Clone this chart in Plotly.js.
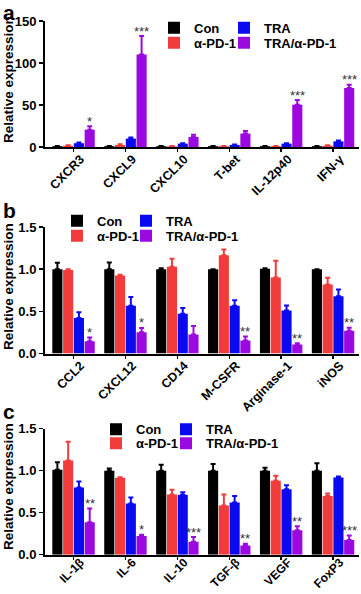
<!DOCTYPE html>
<html>
<head>
<meta charset="utf-8">
<script src="https://cdn.plot.ly/plotly-3.0.1.min.js"></script>
<style>html,body{margin:0;padding:0;background:#fff}#chart{width:361px;height:594px}</style>
</head>
<body>
<div id="chart"></div>
<script>
// ---------- data ----------
const groups = ['Con', 'α-PD-1', 'TRA', 'TRA/α-PD-1'];
const colors = ['#000000', '#f23c3c', '#0a0af0', '#9a0ae0'];

const catsA = ['CXCR3', 'CXCL9', 'CXCL10', 'T-bet', 'IL-12p40', 'IFN-γ'];
const conA   = [1, 1, 1, 1, 1, 1];
const pd1A   = [1.5, 2.5, 0.8, 1, 1, 1.5];
const traA   = [4.5, 10, 4, 2.5, 4, 6.7];
const comboA = [20.6, 110, 12, 16, 50.4, 70.2];
const conAErr   = [0.3, 0.3, 0.3, 0.3, 0.3, 0.3];
const pd1AErr   = [0.5, 0.8, 0.3, 0.3, 0.3, 0.5];
const traAErr   = [0.8, 1.2, 0.5, 0.5, 0.5, 1];
const comboAErr = [4, 22, 2.7, 3, 5.5, 4];
const sigA = ['*', '***', '', '', '***', '***'];

const catsB = ['CCL2', 'CXCL12', 'CD14', 'M-CSFR', 'Arginase-1', 'iNOS'];
const conB   = [1.0, 1.0, 1.0, 1.0, 1.005, 1.0];
const pd1B   = [0.99, 0.925, 1.03, 1.166, 0.90, 0.818];
const traB   = [0.42, 0.565, 0.47, 0.565, 0.51, 0.68];
const comboB = [0.146, 0.253, 0.225, 0.154, 0.107, 0.27];
const conBErr   = [0.075, 0.08, 0.012, 0, 0.006, 0];
const pd1BErr   = [0.01, 0.01, 0.095, 0.067, 0.2, 0.08];
const traBErr   = [0.07, 0.105, 0.07, 0.067, 0.06, 0.08];
const comboBErr = [0.045, 0.05, 0.1, 0.047, 0.015, 0.035];
const sigB = ['*', '*', '', '**', '**', '**'];

const catsC = ['IL-1β', 'IL-6', 'IL-10', 'TGF-β', 'VEGF', 'FoxP3'];
const conC   = [1.01, 1.0, 1.0, 1.0, 1.0, 1.0];
const pd1C   = [1.12, 0.917, 0.718, 0.587, 0.88, 0.70];
const traC   = [0.80, 0.61, 0.714, 0.62, 0.778, 0.92];
const comboC = [0.385, 0.222, 0.155, 0.11, 0.29, 0.175];
const conCErr   = [0.09, 0.025, 0.07, 0.08, 0.035, 0.09];
const pd1CErr   = [0.225, 0.005, 0.056, 0.13, 0.06, 0.03];
const traCErr   = [0.07, 0.07, 0.03, 0.08, 0.05, 0.01];
const comboCErr = [0.165, 0.016, 0.055, 0.02, 0.05, 0.055];
const sigC = ['**', '*', '***', '**', '**', '***'];

const yTitle = 'Relative expression';
const panelLetters = ['a', 'b', 'c'];

// ---------- build ----------
const FONT = 'Liberation Sans, Arial, sans-serif';
const H = 594, W = 361;
const py = p => 1 - p / H;

const panels = [
  {cats: catsA, vals: [conA, pd1A, traA, comboA], errs: [conAErr, pd1AErr, traAErr, comboAErr], sig: sigA,
   range: [0, 150], dtick: 50, fmt: 'd', dom: [py(147), py(21)], legY: [27.7, 42.7], legX: [154, 224], letterTop: 0, titleY: 80, standoff: -5, tfs: 12.5},
  {cats: catsB, vals: [conB, pd1B, traB, comboB], errs: [conBErr, pd1BErr, traBErr, comboBErr], sig: sigB,
   range: [0, 1.5], dtick: 0.5, fmt: '.1f', dom: [py(353.5), py(227)], legY: [220.7, 235.7], legX: [57, 126], letterTop: 198, titleY: 287, standoff: -5, tfs: 12.5},
  {cats: catsC, vals: [conC, pd1C, traC, comboC], errs: [conCErr, pd1CErr, traCErr, comboCErr], sig: sigC,
   range: [0, 1.5], dtick: 0.5, fmt: '.1f', dom: [py(554.7), py(428.7)], legY: [429.3, 443.3], legX: [96, 166], letterTop: 399, titleY: 487, standoff: -9, tfs: 12}
];
// legend grid: [column, row] for each group
const legCell = [[0, 0], [0, 1], [1, 0], [1, 1]];

const bargap = 0.17;
const data = [];
const layout = {
  width: W, height: H,
  margin: {l: 0, r: 0, t: 0, b: 0},
  paper_bgcolor: '#fff', plot_bgcolor: '#fff',
  barmode: 'group', bargap: bargap, bargroupgap: 0.06,
  font: {family: FONT, size: 13, color: '#000', weight: 'bold'},
  annotations: [],
  showlegend: true
};

let legN = 0;
panels.forEach((p, pi) => {
  const xa = pi === 0 ? 'x' : 'x' + (pi + 1);
  const ya = pi === 0 ? 'y' : 'y' + (pi + 1);
  groups.forEach((g, gi) => {
    legN += 1;
    const lg = legN === 1 ? 'legend' : 'legend' + legN;
    data.push({
      type: 'bar', x: p.cats, y: p.vals[gi], name: g,
      xaxis: xa, yaxis: ya, legend: lg,
      marker: {color: colors[gi], line: {width: 0}},
      error_y: {type: 'data', symmetric: false, array: p.errs[gi], arrayminus: p.errs[gi].map(() => 0),
                color: colors[gi], thickness: 2, width: 2.5},
      hoverinfo: 'skip'
    });
    layout[lg] = {
      orientation: 'h', xref: 'paper', yref: 'paper', xanchor: 'left', yanchor: 'middle',
      x: p.legX[legCell[gi][0]] / W, y: py(p.legY[legCell[gi][1]]),
      bgcolor: 'rgba(0,0,0,0)', borderwidth: 0,
      font: {family: FONT, size: 13, color: '#000', weight: 'bold'}, itemclick: false, itemdoubleclick: false
    };
  });
  const xkey = pi === 0 ? 'xaxis' : 'xaxis' + (pi + 1);
  const ykey = pi === 0 ? 'yaxis' : 'yaxis' + (pi + 1);
  layout[xkey] = {
    domain: [45 / W, 359 / W], anchor: ya, range: [-0.55, 5.5], type: 'category',
    showline: true, linewidth: 2, linecolor: '#000', ticks: 'outside', ticklen: 3, tickwidth: 1.5, tickcolor: '#000',
    tickangle: -45, ticklabelshift: 7, ticklabelstandoff: p.standoff,
    tickfont: {family: FONT, size: p.tfs, color: '#000', weight: 'bold'},
    showgrid: false, zeroline: false, fixedrange: true
  };
  layout[ykey] = {
    domain: p.dom, anchor: xa, range: p.range, dtick: p.dtick, tick0: 0, tickformat: p.fmt,
    showline: true, linewidth: 2, linecolor: '#000', ticks: 'outside', ticklen: 4, tickwidth: 1.5, tickcolor: '#000',
    tickfont: {family: FONT, size: 13, color: '#000', weight: 'bold'},
    showgrid: false, zeroline: false, fixedrange: true
  };

  // significance stars over the combination bars
  const slot = (1 - bargap) / 4;
  p.sig.forEach((s, ci) => {
    if (!s) return;
    layout.annotations.push({
      xref: xa, yref: ya, x: ci + 1.5 * slot, y: p.vals[3][ci] + p.errs[3][ci],
      text: s, showarrow: false, xanchor: 'center', yanchor: 'middle', yshift: 5,
      font: {family: FONT, size: 13, color: '#333', weight: 'normal'}
    });
  });
  // panel letter
  layout.annotations.push({
    xref: 'paper', yref: 'paper', x: 2 / W, y: py(p.letterTop), xanchor: 'left', yanchor: 'top', borderpad: 0,
    text: panelLetters[pi], showarrow: false, font: {family: FONT, size: 21, color: '#000', weight: 'bold'}
  });
  // y axis title
  layout.annotations.push({
    xref: 'paper', yref: 'paper', x: 8 / W, y: py(p.titleY), xanchor: 'center', yanchor: 'middle',
    text: yTitle, textangle: -90, showarrow: false, font: {family: FONT, size: 13.5, color: '#000', weight: 'bold'}
  });
});

Plotly.newPlot('chart', data, layout, {displayModeBar: false, staticPlot: true});
</script>
</body>
</html>
